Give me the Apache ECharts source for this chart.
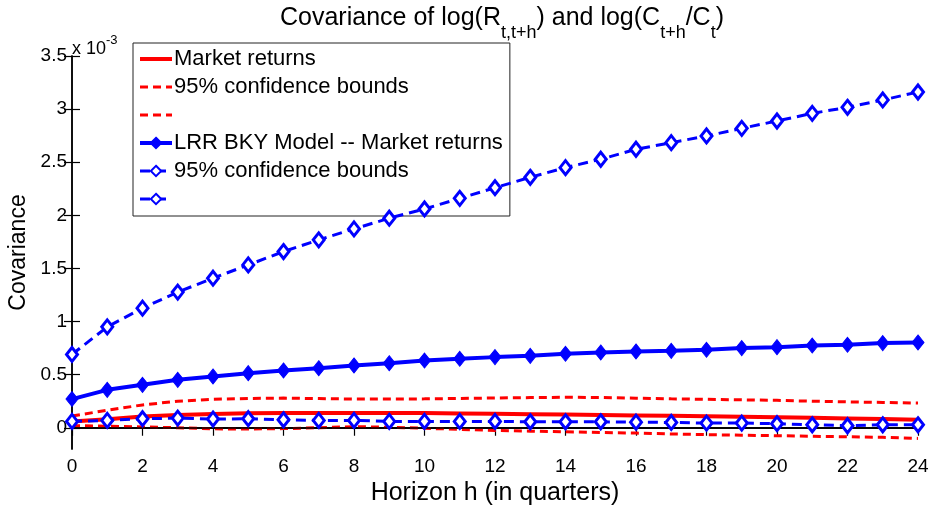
<!DOCTYPE html>
<html>
<head>
<meta charset="utf-8">
<script src="https://cdn.jsdelivr.net/npm/echarts@6/dist/echarts.min.js"></script>
<style>html,body{margin:0;padding:0;background:#fff}#c{width:935px;height:507px}</style>
</head>
<body>
<div id="c"></div>
<script>
// Horizon h (quarters)
const horizons = [0,1,2,3,4,5,6,7,8,9,10,11,12,13,14,15,16,17,18,19,20,21,22,23,24];
// Values in units of 1e-3
const marketReturns = [0.06,0.08,0.105,0.12,0.13,0.137,0.14,0.14,0.14,0.14,0.138,0.135,0.132,0.128,0.124,0.12,0.116,0.112,0.108,0.104,0.1,0.094,0.088,0.082,0.075];
const marketUpper = [0.11,0.165,0.215,0.25,0.268,0.276,0.279,0.275,0.27,0.27,0.272,0.276,0.28,0.284,0.287,0.285,0.278,0.272,0.268,0.263,0.258,0.25,0.244,0.238,0.232];
const marketLower = [0.02,0.015,0.008,0.0,-0.01,-0.012,-0.008,0.0,0.01,0.005,-0.005,-0.015,-0.025,-0.032,-0.038,-0.045,-0.05,-0.058,-0.065,-0.07,-0.075,-0.08,-0.085,-0.09,-0.1];
const modelMean = [0.27,0.357,0.404,0.451,0.483,0.514,0.539,0.561,0.586,0.608,0.633,0.649,0.665,0.677,0.696,0.709,0.718,0.724,0.734,0.75,0.759,0.774,0.781,0.797,0.803];
const modelUpper = [0.69,0.95,1.126,1.277,1.408,1.533,1.659,1.769,1.872,1.973,2.06,2.16,2.26,2.358,2.449,2.528,2.622,2.684,2.747,2.819,2.888,2.96,3.017,3.086,3.161];
const modelLower = [0.06,0.069,0.085,0.091,0.082,0.085,0.075,0.069,0.069,0.06,0.06,0.06,0.06,0.056,0.056,0.056,0.053,0.05,0.044,0.044,0.038,0.028,0.019,0.028,0.028];
const xTicks = [0,2,4,6,8,10,12,14,16,18,20,22,24];
const yTicks = [0,0.5,1,1.5,2,2.5,3,3.5];
const legendNames = ['Market returns','95% confidence bounds','\u200b','LRR BKY Model -- Market returns','95% confidence bounds ','\u200b\u200b'];

const FONT = 'Liberation Sans';
const RED = '#ff0000', BLUE = '#0000ff';
const pair = arr => horizons.map((h,i)=>[h, arr[i]]);

const chart = echarts.init(document.getElementById('c'));
const axisCommon = {
  axisLine:{show:true,lineStyle:{color:'#000',width:1.5}},
  splitLine:{show:false}
};
const hiddenSym = {opacity:0, color:'transparent', borderWidth:0};
chart.setOption({
  animation:false,
  backgroundColor:'#fff',
  textStyle:{fontFamily:FONT},
  title:[{
    text:'{m|Covariance of log(R}{s|t,t+h}{m|) and log(C}{s|t+h}{m|/C}{s|t}{m|)}',
    left:497, top:1, textAlign:'center',
    textStyle:{fontWeight:'normal',rich:{
      m:{fontSize:25,fontFamily:FONT,fontWeight:'normal',color:'#000',lineHeight:27,verticalAlign:'top'},
      s:{fontSize:18,fontFamily:FONT,fontWeight:'normal',color:'#000',lineHeight:36,verticalAlign:'bottom'}
    }}
  },{
    text:'{n|x 10}{p|-3}',
    left:67, top:29,
    textStyle:{fontWeight:'normal',rich:{
      n:{fontSize:18,fontFamily:FONT,fontWeight:'normal',color:'#000',lineHeight:24,verticalAlign:'bottom'},
      p:{fontSize:13,fontFamily:FONT,fontWeight:'normal',color:'#000',lineHeight:14,verticalAlign:'top'}
    }}
  }],
  legend:{
    data:[
      {name:legendNames[0], itemStyle:hiddenSym, lineStyle:{width:4}},
      {name:legendNames[1], itemStyle:hiddenSym, lineStyle:{width:3}},
      {name:legendNames[2], itemStyle:hiddenSym, lineStyle:{width:3}},
      {name:legendNames[3], lineStyle:{width:4}},
      {name:legendNames[4], lineStyle:{width:3}},
      {name:legendNames[5], lineStyle:{width:3}}
    ],
    orient:'vertical', left:133, top:43,
    backgroundColor:'#fff', borderColor:'#222', borderWidth:1,
    padding:[5,7,6,5], itemGap:6, itemWidth:32, itemHeight:13,
    selectedMode:false,
    textStyle:{fontSize:22,fontFamily:FONT,color:'#000',padding:[0,0,0,-3]}
  },
  grid:{left:72,right:17,top:56,bottom:58,containLabel:false,outerBoundsMode:'none'},
  xAxis:[{
    type:'value', min:0, max:24, interval:2, position:'bottom',
    name:'Horizon h (in quarters)', nameLocation:'middle', nameGap:32,
    nameTextStyle:{fontSize:25,fontFamily:FONT,color:'#000'},
    axisTick:{show:true,inside:true,length:8,lineStyle:{color:'#000',width:1.2}},
    axisLabel:{fontSize:19,color:'#000',margin:8,fontFamily:FONT},
    ...axisCommon
  },{
    type:'value', min:0, max:24, interval:2, position:'top',
    axisTick:{show:true,inside:true,length:8,lineStyle:{color:'#000',width:1.2}},
    axisLabel:{show:false},
    ...axisCommon
  }],
  yAxis:[{
    type:'value', min:-0.2, max:3.5, position:'left',
    name:'Covariance', nameLocation:'middle', nameGap:30, nameRotate:90,
    nameTextStyle:{fontSize:23,fontFamily:FONT,color:'#000'},
    axisTick:{show:true,inside:true,length:8,customValues:yTicks,lineStyle:{color:'#000',width:1.2}},
    axisLabel:{fontSize:19,color:'#000',margin:5,fontFamily:FONT,customValues:yTicks},
    ...axisCommon
  },{
    type:'value', min:-0.2, max:3.5, position:'right',
    axisTick:{show:true,inside:true,length:8,customValues:yTicks,lineStyle:{color:'#000',width:1.2}},
    axisLabel:{show:false,customValues:yTicks},
    ...axisCommon
  }],
  series:[{
    name:legendNames[0], type:'line', data:pair(marketReturns), symbol:'none',
    color:RED, lineStyle:{color:RED,width:4}, z:2,
    markLine:{silent:true,symbol:'none',label:{show:false},lineStyle:{color:'#000',width:1.5,type:'solid'},data:[{yAxis:0}]}
  },{
    name:legendNames[1], type:'line', data:pair(marketUpper), symbol:'none',
    color:RED, lineStyle:{color:RED,width:3,type:[8,5]}, z:3
  },{
    name:legendNames[2], type:'line', data:pair(marketLower), symbol:'none',
    color:RED, lineStyle:{color:RED,width:3,type:[8,5]}, z:3
  },{
    name:legendNames[3], type:'line', data:pair(modelMean), symbol:'diamond', symbolSize:[12,15],
    color:BLUE, lineStyle:{color:BLUE,width:4}, itemStyle:{color:BLUE,borderColor:BLUE,borderWidth:1}, z:4
  },{
    name:legendNames[4], type:'line', data:pair(modelUpper), symbol:'diamond', symbolSize:[11,14],
    color:BLUE, lineStyle:{color:BLUE,width:3,type:[10,6]}, itemStyle:{color:'#fff',borderColor:BLUE,borderWidth:3}, z:4
  },{
    name:legendNames[5], type:'line', data:pair(modelLower), symbol:'diamond', symbolSize:[11,14],
    color:BLUE, lineStyle:{color:BLUE,width:3,type:[10,6]}, itemStyle:{color:'#fff',borderColor:BLUE,borderWidth:3}, z:5
  }]
});
</script>
</body>
</html>
